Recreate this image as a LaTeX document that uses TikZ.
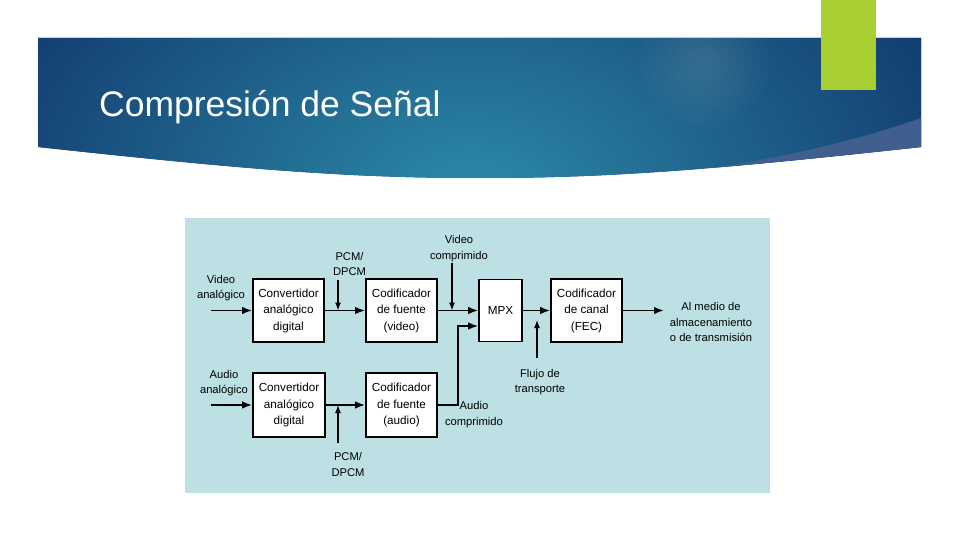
\documentclass[tikz,border=0pt]{standalone}
\usepackage{fontspec}
\setmainfont{Liberation Sans}
\usetikzlibrary{arrows.meta}
\definecolor{navy}{RGB}{13,44,100}
\definecolor{tealc}{RGB}{44,138,168}
\definecolor{band}{RGB}{64,94,142}
\definecolor{lime}{RGB}{168,208,50}
\definecolor{panel}{RGB}{188,224,227}
\tikzset{
  blk/.style={draw=black, line width=1.6pt, fill=white, inner sep=0pt, align=center,
    font=\fontsize{11.7}{16.5}\selectfont},
  lbl/.style={inner sep=0pt, align=center, font=\fontsize{11.2}{15.5}\selectfont},
  arr/.style={line width=1.9pt, -{Latex[length=10pt,width=7.5pt]}},
  arrs/.style={line width=1.1pt, -{Latex[length=8pt,width=6pt]}}
}
\begin{document}
\begin{tikzpicture}[x=1pt,y=-1pt]
\useasboundingbox[fill=white] (0,0) rectangle (960,540);
% banner
\begin{scope}
\clip (38,38) -- (921,38) -- (921,147) .. controls (710,170) and (610,178) .. (480,178)
      .. controls (350,178) and (250,170) .. (38,147) -- cycle;
\fill[navy] (0,0) rectangle (960,200);
\shade[inner color=tealc, outer color=navy] (470,195) ellipse (620 and 410);
\foreach \r in {8,16,...,64} {\fill[white, fill opacity=0.014] (705,62) circle (\r);}
\fill[band] (921,118) .. controls (830,150) and (720,172) .. (560,186) -- (921,210) -- cycle;
\end{scope}
\fill[lime] (821,0) rectangle (876,90);
\node[anchor=base west, inner sep=0pt, text=white, font=\fontsize{35.5}{40}\selectfont] (title) at (99,117) {Compresión de Señal};
% panel
\fill[panel] (185,218) rectangle (770,493);
% blocks
\node[blk, minimum width=71pt, minimum height=63pt] (conv1) at (288.5,310.5) {Convertidor\\analógico\\digital};
\node[blk, minimum width=71pt, minimum height=63pt] (codv) at (401.5,310.5) {Codificador\\de fuente\\(video)};
\node[blk, minimum width=43pt, minimum height=62pt] (mpx) at (500.5,310.5) {MPX};
\node[blk, minimum width=71pt, minimum height=63pt] (codc) at (586.5,310.5) {Codificador\\de canal\\(FEC)};
\node[blk, minimum width=72pt, minimum height=64pt] (conv2) at (289,405) {Convertidor\\analógico\\digital};
\node[blk, minimum width=71pt, minimum height=64pt] (coda) at (401.5,405) {Codificador\\de fuente\\(audio)};
% labels
\node[lbl] (lvin) at (221,288) {Video\\analógico};
\node[lbl] (lpcm1) at (349.5,264) {PCM/\\DPCM};
\node[lbl] (lvc) at (459,248.5) {Video\\comprimido};
\node[lbl] (lout) at (711,322) {Al medio de\\almacenamiento\\o de transmisión};
\node[lbl] (lain) at (224,383) {Audio\\analógico};
\node[lbl] (lac) at (474,414.5) {Audio\\comprimido};
\node[lbl] (lpcm2) at (348,464.5) {PCM/\\DPCM};
\node[lbl] (lft) at (540,382) {Flujo de\\transporte};
% coordinates
\coordinate (vin) at (211,310.5);
\coordinate (ain) at (211,405);
\coordinate (out) at (664,310.5);
\coordinate (p1) at (338,280);
\coordinate (p2) at (338,443);
\coordinate (vc) at (452,263);
\coordinate (ft) at (537,358);
\coordinate (ftend) at (537,320);
\coordinate (ac) at (458,326);
% connectors
\draw[arr] (vin) -- (conv1.west);
\draw[arr] (conv1.east) -- (codv.west);
\draw[arr] (codv.east) -- (mpx.west);
\draw[arr] (mpx.east) -- (codc.west);
\draw[arr] (codc.east) -- (out);
\draw[arr] (ain) -- (conv2.west);
\draw[arr] (conv2.east) -- (coda.west);
\draw[arr] (coda.east) -| (ac) -- (ac -| mpx.west);
\draw[arrs] (p1) -- (p1 |- conv1.east);
\draw[arrs] (vc) -- (vc |- codv.east);
\draw[arrs] (p2) -- (p2 |- conv2.east);
\draw[arrs] (ft) -- (ftend);
\end{tikzpicture}
\end{document}
